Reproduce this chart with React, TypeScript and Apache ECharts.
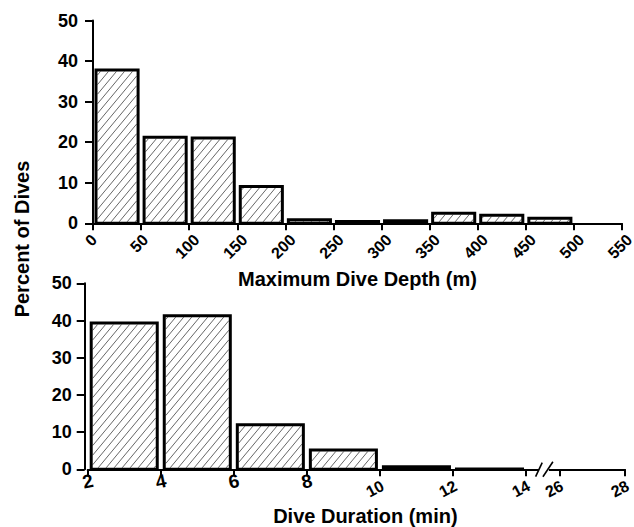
import React, { useEffect, useRef } from "react";
import * as echarts from "echarts";

// ---- Data (percent of dives) ----
const depthStart = [0, 50, 100, 150, 200, 250, 300, 350, 400, 450, 500];
const depthEnd = [50, 100, 150, 200, 250, 300, 350, 400, 450, 500, 550];
const depthPct = [37.8, 21.2, 21.0, 9.1, 0.9, 0.45, 0.6, 2.5, 2.0, 1.25, 0];
const depthTicks = [0, 50, 100, 150, 200, 250, 300, 350, 400, 450, 500, 550];

const durStart = [2, 4, 6, 8, 10, 12, 26];
const durEnd = [4, 6, 8, 10, 12, 14, 28];
const durPct = [39.3, 41.3, 12.0, 5.2, 0.7, 0.1, 0];
const durTicks = [2, 4, 6, 8, 10, 12, 14, 26, 28];

const yTicks = [0, 10, 20, 30, 40, 50];

// broken axis mapping (14 .. 26 is cut out)
const BREAK_FROM = 14;
const BREAK_TO = 26;
const BREAK_GAP = 0.91;
const POST_SCALE = 0.9;
const toAxis = (v: number) =>
  v <= BREAK_FROM ? v : BREAK_FROM + BREAK_GAP + (v - BREAK_TO) * POST_SCALE;

const FONT = '"Liberation Sans", Arial, Helvetica, sans-serif';

function makeRenderItem(inset: number) {
  return (params: any, api: any) => {
    const s = api.value(0);
    const e = api.value(1);
    const v = api.value(2);
    if (!v) return null;
    const p0 = api.coord([s, v]);
    const p1 = api.coord([e, 0]);
    const lw = 3;
    const x0 = p0[0] + inset + lw / 2;
    const x1 = p1[0] - inset - lw / 2;
    const y0 = p0[1];
    const y1 = p1[1];
    const children: any[] = [];
    children.push({
      type: "rect",
      shape: { x: x0, y: y0, width: x1 - x0, height: y1 - y0 },
      style: { fill: "#fff", stroke: null },
    });
    const ix0 = x0 + 1.5, ix1 = x1 - 1.5, iy0 = y0 + 1.5, iy1 = y1 - 1.5;
    if (ix1 > ix0 && iy1 > iy0) {
      const m = 1.2;
      const step = m * 8;
      const cMin = iy0 + m * ix0;
      const cMax = iy1 + m * ix1;
      for (let c = Math.ceil(cMin / step) * step; c <= cMax; c += step) {
        const xa = Math.max(ix0, (c - iy1) / m);
        const xb = Math.min(ix1, (c - iy0) / m);
        if (xb > xa) {
          children.push({
            type: "line",
            shape: { x1: xa, y1: c - m * xa, x2: xb, y2: c - m * xb },
            style: { stroke: "#555", lineWidth: 0.9 },
          });
        }
      }
    }
    children.push({
      type: "rect",
      shape: { x: x0, y: y0, width: x1 - x0, height: y1 - y0 },
      style: { fill: "none", stroke: "#000", lineWidth: lw },
    });
    return { type: "group", children };
  };
}

// rotated tick label: bbox horizontally centred at tick+dx, bbox top at axis+top
function rotatedLabel(text: string, px: number, py: number, fs: number, deg: number, dx: number, top: number) {
  const th = (deg * Math.PI) / 180;
  const w = text.length * 0.556 * fs;
  const h = 0.75 * fs;
  const half = (w * Math.sin(th) + h * Math.cos(th)) / 2;
  return {
    type: "text",
    x: px + dx,
    y: py + top + half,
    rotation: th,
    style: {
      text,
      fill: "#000",
      font: `bold ${fs}px ${FONT}`,
      align: "center",
      verticalAlign: "middle",
    },
  };
}

export default function App() {
  const ref = useRef<HTMLDivElement>(null);

  useEffect(() => {
    document.body.style.margin = "0";
    if (!ref.current) return;
    const chart = echarts.init(ref.current, undefined, { renderer: "svg" });

    const axisLineStyle = { color: "#000", width: 2 };
    const yAxisCommon = {
      type: "value",
      min: 0,
      max: 50,
      interval: 10,
      axisLine: { show: true, lineStyle: axisLineStyle },
      axisTick: { show: true, length: 8, lineStyle: axisLineStyle },
      splitLine: { show: false },
      axisLabel: {
        color: "#000",
        fontFamily: FONT,
        fontWeight: "bold",
        fontSize: 18,
        margin: 13,
        formatter: (v: number) => (yTicks.includes(v) ? String(v) : ""),
      },
    };

    const option: any = {
      animation: false,
      backgroundColor: "#fff",
      grid: [
        { left: 93, top: 20.5, width: 529, height: 202.8, outerBoundsMode: "none" },
        { left: 87.7, top: 283.3, width: 537.3, height: 186, outerBoundsMode: "none" },
      ],
      xAxis: [
        {
          type: "value",
          gridIndex: 0,
          min: 0,
          max: 550,
          interval: 50,
          name: "Maximum Dive Depth (m)",
          nameLocation: "middle",
          nameGap: 46,
          nameTextStyle: { color: "#000", fontFamily: FONT, fontWeight: "bold", fontSize: 20 },
          axisLine: { show: true, onZero: false, lineStyle: axisLineStyle },
          axisTick: { show: true, length: 7, lineStyle: axisLineStyle },
          splitLine: { show: false },
          axisLabel: { show: false },
        },
        {
          type: "value",
          gridIndex: 1,
          min: 2,
          max: toAxis(28),
          name: "Dive Duration (min)",
          nameLocation: "middle",
          nameGap: 37,
          nameTextStyle: {
            color: "#000",
            fontFamily: FONT,
            fontWeight: "bold",
            fontSize: 20,
            padding: [0, 0, 0, 18],
          },
          axisLine: { show: true, onZero: false, lineStyle: axisLineStyle },
          axisTick: {
            show: true,
            length: 7,
            lineStyle: axisLineStyle,
            customValues: durTicks.map(toAxis),
          },
          splitLine: { show: false },
          axisLabel: { show: false, customValues: durTicks.map(toAxis) },
        },
      ],
      yAxis: [
        { ...yAxisCommon, gridIndex: 0, offset: 2 },
        { ...yAxisCommon, gridIndex: 1, offset: 3 },
      ],
      series: [
        {
          type: "custom",
          xAxisIndex: 0,
          yAxisIndex: 0,
          clip: false,
          encode: { x: [0, 1], y: 2 },
          renderItem: makeRenderItem(1.5),
          data: depthStart.map((s, i) => [s, depthEnd[i], depthPct[i]]),
        },
        {
          type: "custom",
          xAxisIndex: 1,
          yAxisIndex: 1,
          clip: false,
          encode: { x: [0, 1], y: 2 },
          renderItem: makeRenderItem(2),
          data: durStart.map((s, i) => [toAxis(s), toAxis(durEnd[i]), durPct[i]]),
        },
        // tick labels of the depth axis
        {
          type: "custom",
          xAxisIndex: 0,
          yAxisIndex: 0,
          clip: false,
          silent: true,
          encode: { x: 0, y: 1 },
          renderItem: (params: any, api: any) => {
            const p = api.coord([api.value(0), 0]);
            const text = String(depthTicks[params.dataIndex]);
            return rotatedLabel(text, p[0], p[1], 16, 45, -2, 9.5);
          },
          data: depthTicks.map((v) => [v, 0]),
        },
        // tick labels of the duration axis
        {
          type: "custom",
          xAxisIndex: 1,
          yAxisIndex: 1,
          clip: false,
          silent: true,
          encode: { x: 0, y: 1 },
          renderItem: (params: any, api: any) => {
            const p = api.coord([api.value(0), 0]);
            const text = String(durTicks[params.dataIndex]);
            return text.length === 1
              ? rotatedLabel(text, p[0], p[1], 19, 12, 0, 4)
              : rotatedLabel(text, p[0], p[1], 16, 28, -5, 10);
          },
          data: durTicks.map((v) => [toAxis(v), 0]),
        },
        // axis break marks
        {
          type: "custom",
          xAxisIndex: 1,
          yAxisIndex: 1,
          clip: false,
          silent: true,
          z: 10,
          encode: { x: 0, y: 1 },
          renderItem: (params: any, api: any) => {
            const c = api.coord([api.value(0), 0]);
            const cx = c[0];
            const cy = c[1];
            return {
              type: "group",
              children: [
                {
                  type: "rect",
                  shape: { x: cx - 5, y: cy - 2.5, width: 10, height: 5 },
                  style: { fill: "#fff", stroke: null },
                },
                {
                  type: "line",
                  shape: { x1: cx - 8.3, y1: cy + 7.4, x2: cx - 1.7, y2: cy - 6.6 },
                  style: { stroke: "#000", lineWidth: 1.6 },
                },
                {
                  type: "line",
                  shape: { x1: cx - 1, y1: cy + 7.4, x2: cx + 9, y2: cy - 7.6 },
                  style: { stroke: "#000", lineWidth: 1.6 },
                },
              ],
            };
          },
          data: [[BREAK_FROM + 0.49, 0]],
        },
      ],
      graphic: [
        {
          type: "text",
          x: 21.5,
          y: 239,
          rotation: Math.PI / 2,
          style: {
            text: "Percent of Dives",
            fill: "#000",
            font: `bold 20px ${FONT}`,
            align: "center",
            verticalAlign: "middle",
          },
        },
      ],
    };

    chart.setOption(option);
    return () => chart.dispose();
  }, []);

  return <div ref={ref} style={{ width: 634, height: 527 }} />;
}
